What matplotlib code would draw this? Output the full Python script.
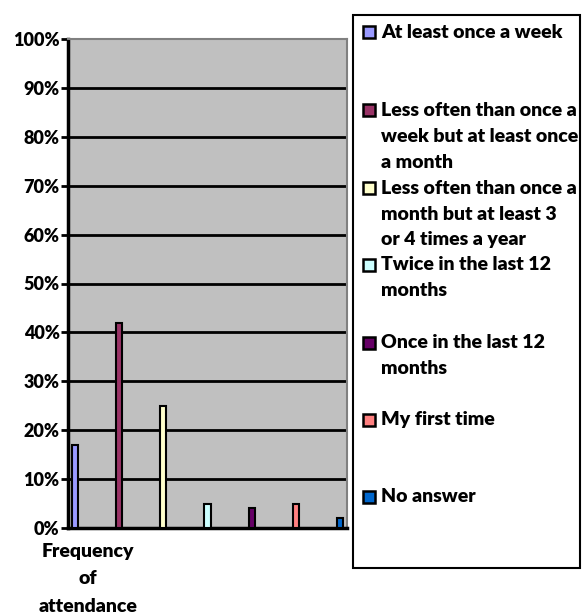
import matplotlib
matplotlib.use("Agg")
import matplotlib.pyplot as plt
from matplotlib.patches import Rectangle

categories = ["At least once a week",
              "Less often than once a\nweek but at least once\na month",
              "Less often than once a\nmonth but at least 3\nor 4 times a year",
              "Twice in the last 12\nmonths",
              "Once in the last 12\nmonths",
              "My first time",
              "No answer"]
values = [17, 42, 25, 5, 4, 5, 2]
colors = ["#9999FF", "#993366", "#FFFFCC", "#CCFFFF", "#660066", "#FF8080", "#0066CC"]
yticks = [0, 10, 20, 30, 40, 50, 60, 70, 80, 90, 100]
ytick_labels = [f"{v}%" for v in yticks]
xlabel = "Frequency\nof\nattendance"

W, H = 582, 616
fig = plt.figure(figsize=(W/100, H/100), dpi=100)
FONT = "Lato"
WT = "heavy"

def px(x, y):
    return x / W, 1 - y / H

l, r, t, b = 68, 347, 39, 528
ax = fig.add_axes([l / W, 1 - b / H, (r - l) / W, (b - t) / H])
ax.set_facecolor("#C0C0C0")
xs = list(range(len(values)))
ax.bar(xs, values, width=0.14, color=colors, edgecolor="black", linewidth=1.5, zorder=3)
ax.set_xlim(-0.16, len(values) - 1 + 0.16)
ax.set_ylim(0, 100)
ax.set_yticks(yticks)
ax.set_yticklabels(ytick_labels, fontfamily=FONT, fontweight=WT, fontsize=13)
ax.tick_params(axis="y", length=5, width=2, direction="out", pad=1)
ax.set_xticks([])
for v in yticks[1:-1]:
    ax.axhline(v, color="black", lw=2, zorder=2)
ax.spines["left"].set_linewidth(2.5)
ax.spines["bottom"].set_linewidth(2.5)
for s in ("top", "right"):
    ax.spines[s].set_color("#808080")
    ax.spines[s].set_linewidth(1.5)

# category label
lines = xlabel.split("\n")
for i, ln in enumerate(lines):
    fig.text(*px(88, 552 + i * 27), ln, ha="center", va="center",
             fontfamily=FONT, fontweight=WT, fontsize=14)

# legend box
x0, y0 = px(353, 568)
x1, y1 = px(580, 15)
fig.patches.append(Rectangle((x0, y0), x1 - x0, y1 - y0, transform=fig.transFigure,
                             fill=False, edgecolor="black", lw=1.5))
starts = [32, 110, 188, 265, 343, 420, 497]
for lab, col, ys in zip(categories, colors, starts):
    mx, my = px(363, ys + 6)
    fig.patches.append(Rectangle((mx, my), 12 / W, 12 / H, transform=fig.transFigure,
                                 facecolor=col, edgecolor="black", lw=1.8))
    for j, ln in enumerate(lab.split("\n")):
        fig.text(*px(381, ys + j * 26), ln, ha="left", va="center",
                 fontfamily=FONT, fontweight=WT, fontsize=14)

fig.savefig("out.png", dpi=100)
